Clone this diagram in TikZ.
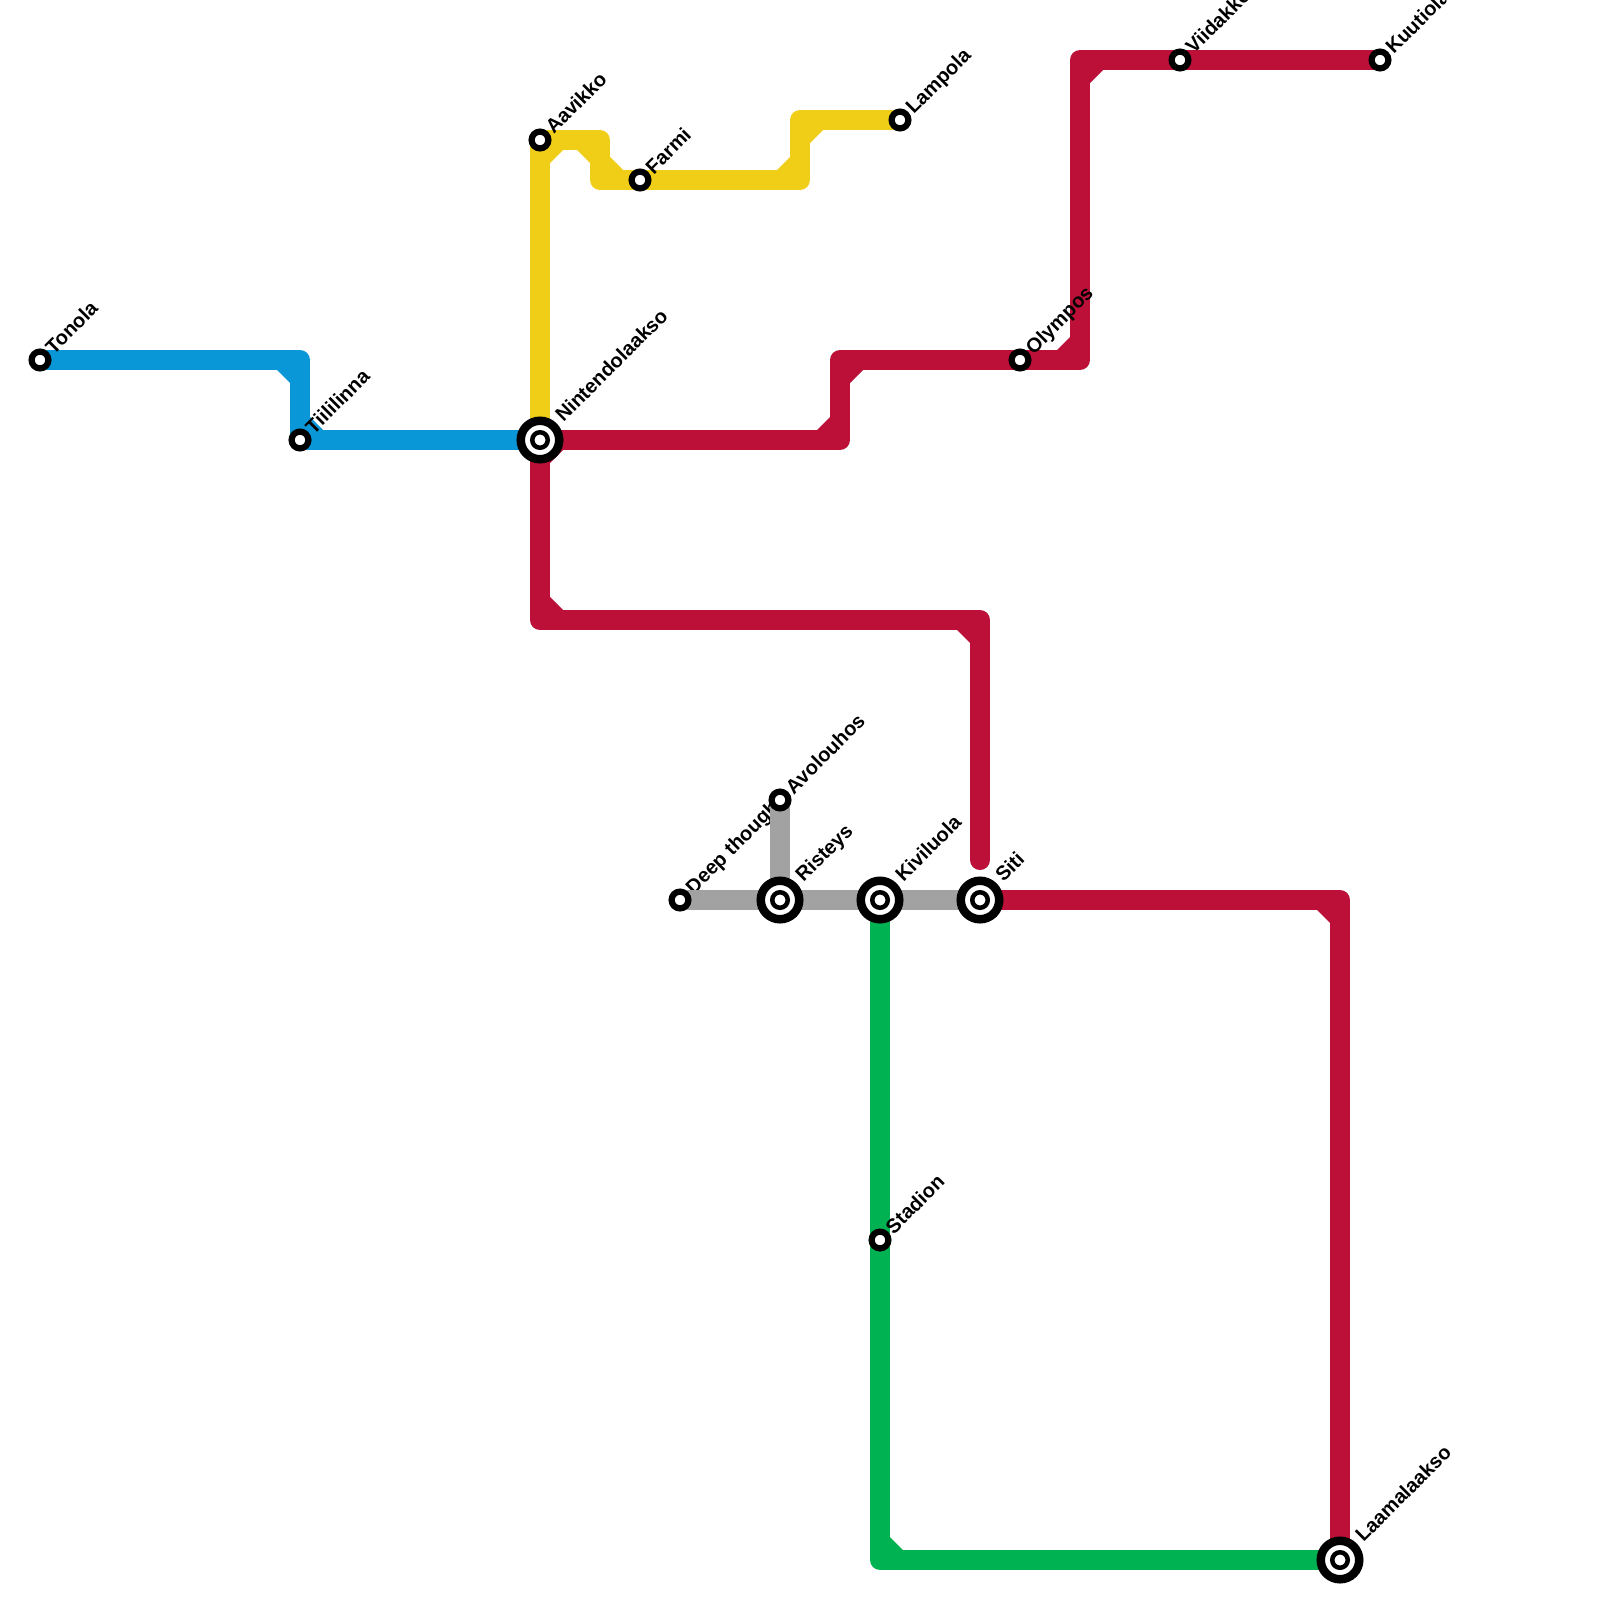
\documentclass[tikz,border=0pt]{standalone}
\usepackage{fontspec}
\setmainfont{Liberation Sans}
\usetikzlibrary{calc}
\definecolor{lblue}{HTML}{0A97D7}
\definecolor{lyellow}{HTML}{F0CE17}
\definecolor{lred}{HTML}{BD1038}
\definecolor{lgreen}{HTML}{00B251}
\definecolor{lgray}{HTML}{A2A2A2}
\pgfdeclarelayer{under}
\pgfdeclarelayer{lines}
\pgfsetlayers{under,lines,main}
\newcommand\mchamf[6]{%
  \fill[#1] ($(#2)+({10*(-(#3)+(#5))},{10*(-(#4)+(#6))})$) -- ++({-13*(#3)},{-13*(#4)}) -- ++({13*((#3)+(#5))},{13*((#4)+(#6))}) -- cycle;}
\tikzset{
  metro/.style={line width=20pt, line cap=round, line join=round},
  sst/.style={circle, draw=black, fill=white, line width=6.2pt, minimum size=16.8pt, inner sep=0pt},
  ist/.style={circle, draw=black, fill=white, line width=8.5pt, minimum size=38.5pt, inner sep=0pt,
    path picture={\draw[line width=4.5pt] (path picture bounding box.center) circle[radius=7.75pt];}},
  lbl/.style={font=\fontsize{20}{24}\selectfont\bfseries, rotate=45, anchor=base west, inner sep=0pt, outer sep=0pt, text=black}
}
\begin{document}
\begin{tikzpicture}[x=1pt,y=-1pt]
\useasboundingbox (0,0) rectangle (1600,1600);
% stations
\node[sst] (ton) at (40,360) {};
\node[sst] (tii) at (300,440) {};
\node[ist] (nin) at (540,440) {};
\node[sst] (aav) at (540,140) {};
\node[sst] (far) at (640,180) {};
\node[sst] (lam) at (900,120) {};
\node[sst] (oly) at (1020,360) {};
\node[sst] (vii) at (1180,60) {};
\node[sst] (kuu) at (1380,60) {};
\node[sst] (avo) at (780,800) {};
\node[sst] (dee) at (680,900) {};
\node[ist] (ris) at (780,900) {};
\node[ist] (kiv) at (880,900) {};
\node[ist] (sit) at (980,900) {};
\node[sst] (sta) at (880,1240) {};
\node[ist] (laa) at (1340,1560) {};
% corners
\coordinate (b1) at (300,360);
\coordinate (y1) at (600,140);
\coordinate (y2) at (600,180);
\coordinate (y3) at (800,180);
\coordinate (y4) at (800,120);
\coordinate (r1) at (1080,60);
\coordinate (r2) at (1080,360);
\coordinate (r3) at (840,360);
\coordinate (r4) at (840,440);
\coordinate (r5) at (540,620);
\coordinate (r6) at (980,620);
\coordinate (r7) at (980,860);
\coordinate (r8) at (1340,900);
\coordinate (g1) at (880,1560);
\begin{pgfonlayer}{under}
\fill[white] (0,0) rectangle (1600,1600);
\node[lbl] (dee-l) at ($(dee)+(13.8,-5)$) {Deep thought};
\end{pgfonlayer}
\begin{pgfonlayer}{lines}
% blue
\draw[metro, lblue] (ton.center) -- (b1) -- (tii.center) -- (nin.center);
\mchamf{lblue}{b1}{1}{0}{0}{1}
\mchamf{lblue}{tii.center}{0}{1}{1}{0}
% red
\draw[metro, lred] (kuu.center) -- (vii.center) -- (r1) -- (r2) -- (oly.center) -- (r3) -- (r4) -- (nin.center) -- (r5) -- (r6) -- (r7);
\draw[metro, lred] (sit.center) -- (r8) -- (laa.center);
\mchamf{lred}{r1}{-1}{0}{0}{1}
\mchamf{lred}{r2}{0}{1}{-1}{0}
\mchamf{lred}{r3}{-1}{0}{0}{1}
\mchamf{lred}{r4}{0}{1}{-1}{0}
\mchamf{lred}{nin.center}{-1}{0}{0}{1}
\mchamf{lred}{r5}{0}{1}{1}{0}
\mchamf{lred}{r6}{1}{0}{0}{1}
\mchamf{lred}{r8}{1}{0}{0}{1}
% yellow
\draw[metro, lyellow] (nin.center) -- (aav.center) -- (y1) -- (y2) -- (far.center) -- (y3) -- (y4) -- (lam.center);
\mchamf{lyellow}{aav.center}{0}{-1}{1}{0}
\mchamf{lyellow}{y1}{1}{0}{0}{1}
\mchamf{lyellow}{y2}{0}{1}{1}{0}
\mchamf{lyellow}{y3}{1}{0}{0}{-1}
\mchamf{lyellow}{y4}{0}{-1}{1}{0}
% green
\draw[metro, lgreen] (kiv.center) -- (g1) -- (laa.center);
\mchamf{lgreen}{g1}{0}{1}{1}{0}
% gray
\draw[metro, lgray] (dee.center) -- (sit.center);
\draw[metro, lgray] (avo.center) -- (ris.center);
\end{pgfonlayer}
% labels
\node[lbl] (ton-l) at ($(ton)+(13.8,-5)$) {Tonola};
\node[lbl] (tii-l) at ($(tii)+(13.8,-5)$) {Tiililinna};
\node[lbl] (nin-l) at ($(nin)+(23.6,-17.2)$) {Nintendolaakso};
\node[lbl] (aav-l) at ($(aav)+(13.8,-5)$) {Aavikko};
\node[lbl] (far-l) at ($(far)+(13.8,-5)$) {Farmi};
\node[lbl] (lam-l) at ($(lam)+(13.8,-5)$) {Lampola};
\node[lbl] (oly-l) at ($(oly)+(13.8,-5)$) {Olympos};
\node[lbl] (vii-l) at ($(vii)+(13.8,-5)$) {Viidakko};
\node[lbl] (kuu-l) at ($(kuu)+(13.8,-5)$) {Kuutiola};
\node[lbl] (avo-l) at ($(avo)+(13.8,-5)$) {Avolouhos};
\node[lbl] (ris-l) at ($(ris)+(23.6,-17.2)$) {Risteys};
\node[lbl] (kiv-l) at ($(kiv)+(23.6,-17.2)$) {Kiviluola};
\node[lbl] (sit-l) at ($(sit)+(23.6,-17.2)$) {Siti};
\node[lbl] (sta-l) at ($(sta)+(13.8,-5)$) {Stadion};
\node[lbl] (laa-l) at ($(laa)+(23.6,-17.2)$) {Laamalaakso};
\end{tikzpicture}
\end{document}
